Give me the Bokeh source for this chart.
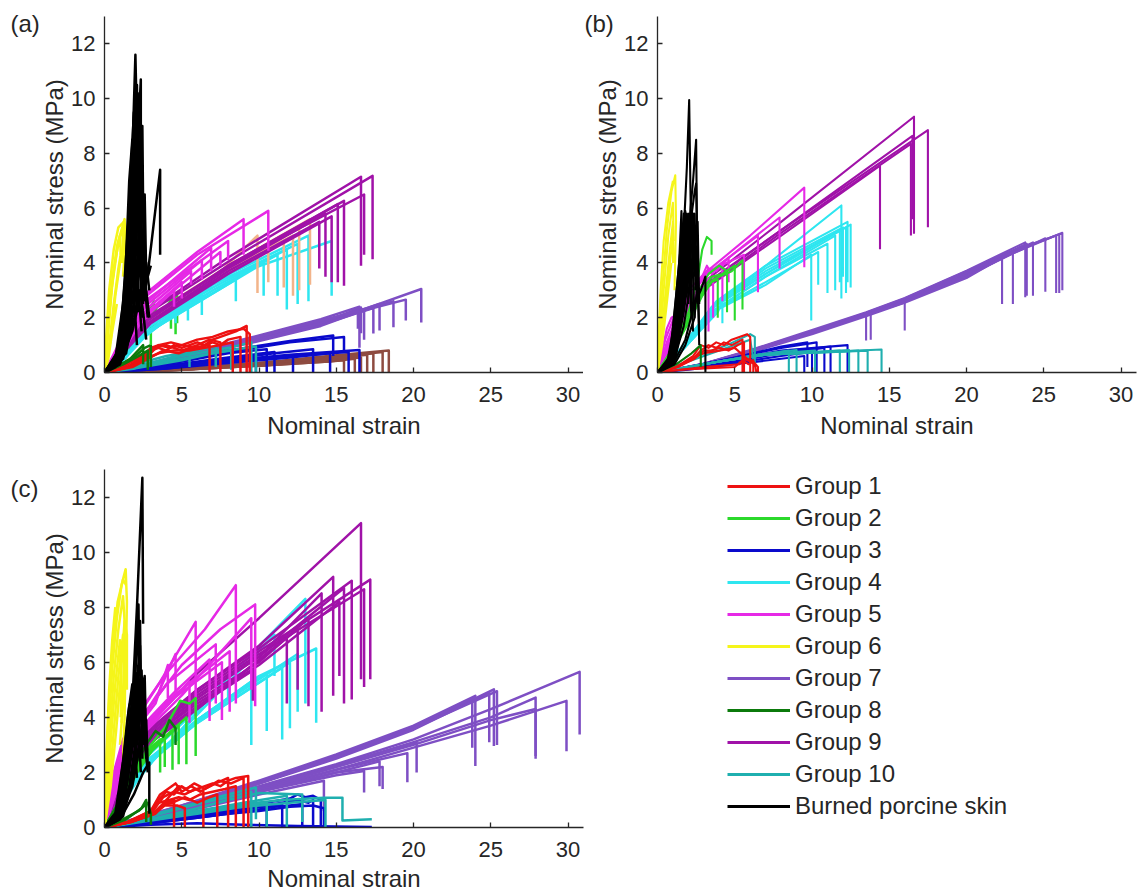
from bokeh.plotting import figure
from bokeh.models import Range1d, Legend, LegendItem, FixedTicker
from bokeh.layouts import column, row
from bokeh.embed import file_html
from bokeh.resources import INLINE

FONT = "Liberation Sans"
GROUP_LABELS = ["Group 1", "Group 2", "Group 3", "Group 4", "Group 5", "Group 6",
                "Group 7", "Group 8", "Group 9", "Group 10", "Burned porcine skin"]
GROUP_COLORS = ["#EE1111", "#2BD92B", "#0A0ACC", "#2EE6F0", "#E629E6", "#F5F51A",
                "#7E4FC4", "#0B7A0B", "#A012A8", "#1FAFAF", "#000000"]
PEACH = "#F2B48A"
BROWN = "#8E4B40"
X_TICKS = [0, 5, 10, 15, 20, 25, 30]
Y_TICKS = [0, 2, 4, 6, 8, 10, 12]
PANEL_TAGS = ["(a)", "(b)", "(c)"]

# ---------------- Panel (a) curves: (strain, stress) ----------------
A_BLACK = [
    [(0,0),(0.8,0.4),(1.3,2.0),(1.7,6.0),(2.0,11.6),(2.1,9.0),(2.4,4.0),(2.6,2.6)],
    [(0,0),(0.9,0.4),(1.5,2.5),(2.0,6.5),(2.35,10.7),(2.35,6.3)],
    [(0,0),(0.8,0.5),(1.4,2.8),(1.8,6.5),(2.15,10.2),(2.2,7.5)],
    [(0,0),(0.7,0.5),(1.2,2.5),(1.6,6.0),(1.9,9.5),(2.0,5.0)],
    [(0,0),(1.0,0.5),(1.6,2.2),(2.0,4.5),(2.4,8.5),(2.45,5.5)],
    [(0,0),(0.8,0.3),(1.3,1.5),(1.7,4.0),(1.95,7.0),(2.2,3.0),(2.4,1.5)],
    [(0,0),(1.0,0.4),(1.7,1.8),(2.2,3.5),(2.5,5.2),(2.6,3.2),(2.8,2.0)],
    [(0,0),(1.0,0.3),(1.8,1.5),(2.4,3.0),(2.8,3.6),(3.2,5.5),(3.6,7.4),(3.6,4.3)],
    [(0,0),(0.9,0.3),(1.5,1.6),(2.0,3.5),(2.5,4.0),(2.7,3.0),(2.9,2.0)],
    [(0,0),(0.6,0.3),(1.1,1.5),(1.5,4.0),(1.75,7.5),(1.8,4.5)],
    [(0,0),(0.7,0.2),(1.2,1.0),(1.6,3.0),(2.1,8.8),(2.3,6.0),(2.6,3.8)],
    [(0,0),(0.5,0.2),(1.0,1.0),(1.4,3.0),(1.7,5.5),(1.9,3.0),(2.1,1.0)],
    [(0,0),(1.1,0.5),(1.9,2.5),(2.3,4.2),(2.6,3.0),(2.8,3.5),(3.0,3.9)],
    [(0,0),(0.9,0.5),(1.4,2.0),(1.8,5.0),(2.05,8.0),(2.2,5.0),(2.45,2.0)],
    [(0,0),(0.8,0.4),(1.3,2.2),(1.7,5.2),(1.95,10.0),(2.0,7.0)],
    [(0,0),(1.0,0.4),(1.6,2.5),(1.95,5.5),(2.3,7.5),(2.4,4.5),(2.5,2.5)],
    [(0,0),(0.7,0.4),(1.2,2.0),(1.5,4.5),(1.8,6.8),(2.0,4.0),(2.2,2.2)],
    [(0,0),(1.1,0.6),(1.7,3.0),(2.1,6.0),(2.5,6.0),(2.6,4.0)],
    [(0,0),(0.9,0.6),(1.5,3.2),(1.85,8.5),(2.1,10.5),(2.15,8.0)],
    [(0,0),(1.2,0.5),(1.9,2.0),(2.3,3.0),(2.5,2.2),(2.7,1.2)],
    [(0,0),(1.0,0.8),(1.5,3.0),(1.8,6.0),(2.0,9.0),(2.1,6.5),(2.3,3.5)],
    [(0,0),(1.1,0.7),(1.6,3.5),(2.0,7.0),(2.2,9.5),(2.25,6.0)],
    [(0,0),(0.9,0.7),(1.35,3.5),(1.6,7.0),(1.8,8.5),(1.9,5.5)],
    [(0,0),(1.2,0.8),(1.8,3.5),(2.2,6.5),(2.45,9.0),(2.5,6.0),(2.6,4.0)],
    [(0,0),(1.3,0.9),(1.9,3.0),(2.3,5.0),(2.6,6.5),(2.7,3.5)],
    [(0,0),(1.0,0.9),(1.5,3.8),(1.75,6.2),(1.9,4.0),(2.1,2.5)],
    [(0,0),(1.2,1.0),(1.7,4.0),(2.0,6.5),(2.3,5.5),(2.5,3.0)],
    [(0,0),(1.4,0.7),(2.0,2.8),(2.4,4.5),(2.7,4.0),(2.9,3.0)],
]
A_YELLOW = [
    [(0,0),(0.15,1.0),(0.4,2.8),(0.8,4.6),(1.3,5.6),(1.35,4.8),(1.2,3.5)],
    [(0,0),(0.2,1.2),(0.5,3.2),(0.9,4.8),(1.2,5.3),(1.15,4.0)],
    [(0,0),(0.1,0.8),(0.3,2.2),(0.6,3.8),(1.0,5.0),(1.05,4.3)],
    [(0,0),(0.3,1.0),(0.6,2.5),(0.9,3.8),(1.1,4.5)],
    [(0,0),(0.25,0.5),(0.5,1.5),(0.8,2.5)],
    [(0,0),(0.1,1.2),(0.3,3.0),(0.6,4.5),(0.9,5.3),(1.25,5.5)],
    [(0,0),(0.4,1.2),(0.7,2.8),(1.0,4.0),(1.25,4.8),(1.3,3.5)],
]
A_MAGENTA = [
    [(0,0),(0.8,0.8),(1.6,1.8),(2.5,2.7),(6,4.3),(10.6,5.9),(10.6,4.45)],
    [(0,0),(0.8,0.9),(1.6,1.9),(2.5,2.8),(6,4.4),(9.0,5.6),(9.0,4.3)],
    [(0,0),(0.9,0.8),(1.8,1.8),(2.6,2.6),(8.0,4.8),(8.0,4.1)],
    [(0,0),(1.0,0.9),(2.0,2.0),(2.8,2.6),(6.9,4.55),(6.9,3.7)],
    [(0,0),(1.0,0.8),(2.0,1.9),(2.8,2.5),(6.3,4.1),(6.3,3.4)],
    [(0,0),(1.0,0.8),(2.0,1.8),(2.9,2.4),(5.6,3.7),(5.6,3.2)],
    [(0,0),(1.1,0.8),(2.1,1.7),(3.0,2.3),(5.0,3.3),(5.0,2.7)],
    [(0,0),(1.1,0.7),(2.2,1.7),(3.0,2.2),(4.5,3.0),(4.5,2.4)],
    [(0,0),(1.2,0.8),(2.2,1.8),(3.0,2.3),(7.5,4.4),(7.5,3.9)],
]
A_DMAG = [
    [(0,0),(1.2,1.0),(2.5,2.1),(8,4.2),(16.6,7.15),(16.6,3.9)],
    [(0,0),(1.2,1.0),(2.6,2.1),(9,4.4),(17.35,7.18),(17.35,4.14)],
    [(0,0),(1.3,1.0),(2.7,2.0),(9,4.2),(16.8,6.5),(16.8,4.3)],
    [(0,0),(1.3,0.9),(2.7,1.9),(8,3.9),(15.5,6.27),(15.5,3.17)],
    [(0,0),(1.4,0.9),(2.8,1.9),(8,3.9),(15.1,6.15),(15.1,3.3)],
    [(0,0),(1.4,0.9),(2.8,1.8),(8,3.8),(14.3,5.8),(14.3,3.5)],
    [(0,0),(1.5,0.9),(2.9,1.8),(8,3.7),(13.9,5.5),(13.9,3.8)],
    [(0,0),(1.5,0.9),(3.0,1.8),(8,3.6),(14.7,5.7),(14.7,3.3)],
]
A_PEACH = [
    [(0,0),(1.2,0.9),(2.5,1.9),(8,3.9),(13.3,5.6),(13.3,3.2)],
    [(0,0),(1.2,0.8),(2.5,1.8),(8,3.7),(12.6,5.3),(12.6,3.0)],
    [(0,0),(1.3,0.8),(2.6,1.7),(7,3.3),(10.6,4.7),(10.6,3.3)],
    [(0,0),(1.3,0.8),(2.6,1.7),(7,3.3),(11.6,4.8),(11.6,3.1)],
    [(0,0),(1.3,0.8),(2.6,1.8),(7,3.5),(12.2,5.0),(12.2,2.8)],
    [(0,0),(1.3,0.8),(2.6,1.7),(7,3.4),(9.9,5.0),(9.9,2.9)],
]
A_CYAN = [
    [(0,0),(1.0,0.6),(2.3,1.5),(7,3.3),(14.7,4.8),(14.7,2.8)],
    [(0,0),(1.0,0.6),(2.3,1.5),(7,3.3),(13.2,5.0),(13.2,2.6)],
    [(0,0),(1.1,0.6),(2.4,1.5),(7,3.2),(12.5,4.7),(12.5,2.5)],
    [(0,0),(1.1,0.6),(2.4,1.5),(7,3.1),(11.8,4.5),(11.8,2.3)],
    [(0,0),(1.2,0.5),(2.5,1.4),(7,3.0),(11.2,4.3),(11.2,2.8)],
    [(0,0),(1.2,0.5),(2.5,1.4),(5.4,2.5),(5.4,1.9)],
    [(0,0),(1.2,0.5),(2.5,1.3),(6.3,2.8),(6.3,2.1)],
    [(0,0),(1.3,0.5),(2.6,1.3),(4.6,2.2),(4.6,1.8)],
    [(0,0),(1.3,0.5),(2.6,1.4),(8.5,3.4),(8.5,2.6)],
    [(0,0),(1.3,0.5),(2.6,1.4),(10.3,4.0),(10.3,2.8)],
]
A_GREEN = [
    [(0,0),(1.0,0.6),(2.0,1.3),(2.8,1.9),(3.2,2.3),(3.4,2.0),(4.4,2.7),(4.6,2.9),(4.6,1.4)],
    [(0,0),(1.0,0.5),(2.0,1.2),(2.7,1.6),(3.0,1.9),(3.0,1.0)],
    [(0,0),(1.1,0.5),(2.1,1.1),(2.8,1.5),(4.3,2.4),(4.3,1.6)],
    [(0,0),(1.2,0.5),(2.2,1.2),(3.5,2.5),(4.7,2.8),(4.7,1.8)],
    [(0,0),(1.0,0.6),(2.2,1.5),(3.2,2.6),(3.2,1.7)],
]
A_RED = [
    [(0,0),(1.5,0.2),(2.5,0.5),(3.0,0.8),(3.5,0.9),(4.0,0.8),(4.5,1.0),(5.0,0.9),(5.5,1.0),(6.0,1.1),(6.5,1.0),(7.0,1.2),(7.5,1.3),(8.0,1.4),(8.5,1.5),(9.2,1.7),(9.2,0.0)],
    [(0,0),(1.5,0.2),(2.5,0.6),(3.0,0.9),(3.5,1.0),(4.2,0.9),(5.0,1.0),(6.0,0.9),(7.0,1.1),(7.5,1.0),(8.0,1.2),(8.8,1.3),(8.8,0.0)],
    [(0,0),(1.5,0.3),(2.6,0.7),(3.2,0.9),(4.0,1.0),(5.0,0.8),(6.0,1.0),(6.8,1.2),(7.5,1.1),(7.5,0.0)],
    [(0,0),(1.6,0.2),(2.6,0.5),(3.5,0.7),(4.5,0.8),(5.5,0.8),(6.5,0.9),(7.5,1.0),(8.3,1.1),(8.3,0.0)],
    [(0,0),(1.6,0.2),(2.8,0.6),(3.5,1.0),(4.3,1.1),(5.0,1.0),(6.0,1.2),(7.0,1.3),(8.0,1.5),(9.0,1.6),(9.4,1.4),(9.4,0.0)],
    [(0,0),(1.8,0.2),(2.8,0.5),(3.8,0.8),(4.8,0.7),(5.8,0.9),(6.8,1.0),(6.8,0.0)],
]
A_DGREEN = [
    [(0,0),(1.0,0.3),(2.0,0.6),(2.6,0.9),(3.0,1.0),(3.0,0.2)],
    [(0,0),(1.2,0.3),(2.2,0.6),(2.8,0.8),(2.8,0.1)],
    [(0,0),(1.5,0.4),(2.5,1.0),(2.5,0.3)],
]
A_TEAL = [
    [(0,0),(2,0.2),(5,0.6),(8,0.9),(9.5,1.1),(9.5,0.0)],
    [(0,0),(2,0.2),(5,0.5),(8,0.8),(9.8,0.95),(9.8,0.0)],
    [(0,0),(2,0.15),(5,0.45),(7,0.7),(8.2,0.8),(8.2,0.1)],
    [(0,0),(2,0.2),(4,0.5),(6,0.8),(7.2,0.95),(7.2,0.2)],
    [(0,0),(2,0.3),(4,0.6),(5.5,0.75),(5.5,0.2)],
]
A_BLUE = [
    [(0,0),(4,0.2),(8,0.45),(12,0.65),(16.5,0.82),(16.5,0.0)],
    [(0,0),(4,0.2),(8,0.4),(12,0.6),(15.8,0.75),(15.8,0.0)],
    [(0,0),(4,0.25),(8,0.55),(11,0.75),(11,0.0)],
    [(0,0),(4,0.3),(8,0.7),(10.5,0.85),(10.5,0.0)],
    [(0,0),(4,0.15),(8,0.35),(12,0.55),(14.6,0.7),(14.6,0.0)],
    [(0,0),(4,0.35),(8,0.8),(12,1.15),(14.8,1.35),(14.8,0.6)],
    [(0,0),(4,0.3),(8,0.75),(12,1.1),(15.5,1.3),(15.5,0.8)],
    [(0,0),(4,0.2),(8,0.5),(11,0.7),(13.5,0.85),(13.5,0.0)],
    [(0,0),(4,0.2),(7,0.4),(9.8,0.55),(9.8,0.0)],
    [(0,0),(4,0.15),(8,0.4),(12.2,0.6),(12.2,0.0)],
]
A_PURPLE = [
    [(0,0),(3,0.3),(6,0.7),(10,1.25),(14,1.85),(17,2.35),(20.5,3.05),(20.5,1.83)],
    [(0,0),(3,0.3),(6,0.7),(10,1.2),(14,1.8),(17,2.3),(19.5,2.66),(19.5,1.9)],
    [(0,0),(3,0.3),(6,0.7),(10,1.2),(14,1.8),(18.7,2.6),(18.7,1.65)],
    [(0,0),(3,0.3),(6,0.7),(10,1.2),(14,1.8),(17.8,2.5),(17.8,1.53)],
    [(0,0),(3,0.3),(6,0.7),(10,1.2),(14,1.75),(17.4,2.35),(17.4,1.42)],
    [(0,0),(3,0.3),(6,0.7),(10,1.2),(14,1.8),(16.6,2.37),(16.6,1.43)],
    [(0,0),(3,0.3),(6,0.65),(10,1.15),(14,1.7),(16.4,2.2),(16.4,1.6)],
    [(0,0),(3,0.35),(6,0.8),(10,1.35),(14,1.95),(16.5,2.4),(16.5,0.9)],
    [(0,0),(3,0.33),(6,0.75),(10,1.3),(14,1.9),(16.8,2.3),(16.8,1.2)],
]
A_BROWN = [
    [(0,0),(5,0.15),(10,0.35),(14.5,0.6),(18.4,0.8),(18.4,0.0)],
    [(0,0),(5,0.15),(10,0.35),(14.5,0.55),(18.0,0.75),(18.0,0.0)],
    [(0,0),(5,0.1),(10,0.3),(14.5,0.5),(17.4,0.7),(17.4,0.0)],
    [(0,0),(5,0.1),(10,0.3),(14.5,0.5),(17.0,0.65),(17.0,0.0)],
    [(0,0),(5,0.1),(10,0.25),(14.5,0.45),(16.6,0.55),(16.6,0.0)],
    [(0,0),(5,0.1),(10,0.25),(14.5,0.4),(16.2,0.5),(16.2,0.0)],
    [(0,0),(5,0.1),(10,0.25),(14.5,0.4),(15.5,0.45),(15.5,0.0)],
]

# ---------------- Panel (b) ----------------
B_BLACK = [
    [(0,0),(0.7,0.3),(1.2,1.5),(1.6,4.0),(1.9,7.5),(2.05,9.95),(2.15,6.0),(2.4,3.5)],
    [(0,0),(0.8,0.4),(1.4,2.0),(1.9,4.5),(2.3,7.0),(2.5,8.5),(2.55,5.5)],
    [(0,0),(0.8,0.3),(1.3,1.5),(1.8,4.0),(2.4,6.6),(2.5,6.9),(2.6,3.5),(2.7,1.0)],
    [(0,0),(0.7,0.3),(1.1,1.5),(1.4,3.5),(1.7,5.8),(1.75,4.0)],
    [(0,0),(0.8,0.3),(1.3,1.8),(1.6,4.0),(2.0,5.8),(2.1,3.5)],
    [(0,0),(0.9,0.3),(1.5,1.7),(2.0,4.0),(2.3,5.8),(2.35,3.8)],
    [(0,0),(0.6,0.3),(1.0,1.5),(1.4,4.0),(1.55,5.9),(1.6,3.0)],
    [(0,0),(1.0,0.3),(1.7,1.7),(2.2,3.5),(2.6,5.5),(2.7,2.5)],
    [(0,0),(1.0,0.3),(1.8,1.2),(2.4,2.5),(2.8,3.0),(3.1,3.5),(3.1,0.0)],
    [(0,0),(0.9,0.4),(1.5,2.0),(1.9,4.0),(2.2,5.9),(2.3,5.0)],
    [(0,0),(1.1,0.3),(1.8,1.0),(2.4,2.0),(2.6,3.5),(2.7,1.5)],
    [(0,0),(0.7,0.4),(1.2,2.0),(1.5,4.2),(1.8,5.9),(1.9,4.5),(2.0,2.5)],
    [(0,0),(0.9,0.5),(1.4,2.4),(1.8,4.6),(2.1,5.6),(2.2,3.0),(2.3,1.5)],
    [(0,0),(1.0,0.5),(1.6,2.3),(2.0,4.4),(2.4,5.8),(2.5,4.0)],
    [(0,0),(0.8,0.5),(1.3,2.5),(1.6,5.0),(1.9,5.7),(2.0,4.0),(2.2,2.0)],
    [(0,0),(1.1,0.5),(1.7,2.2),(2.1,3.8),(2.5,4.6),(2.6,2.5)],
    [(0,0),(0.9,0.6),(1.3,2.5),(1.6,4.5),(1.9,5.8),(2.0,3.5)],
    [(0,0),(1.0,0.6),(1.5,2.8),(1.8,4.8),(2.1,5.5),(2.2,3.0)],
    [(0,0),(1.2,0.6),(1.7,2.5),(2.1,4.2),(2.4,5.2),(2.45,3.0)],
    [(0,0),(0.8,0.6),(1.2,2.8),(1.5,4.6),(1.7,5.4),(1.8,3.2)],
    [(0,0),(1.1,0.7),(1.6,3.0),(1.9,5.0),(2.2,5.9),(2.3,3.5),(2.4,2.0)],
]
B_YELLOW = [
    [(0,0),(0.1,1.0),(0.3,3.0),(0.6,5.2),(0.9,6.6),(1.15,7.2),(1.2,5.5),(1.1,3.0)],
    [(0,0),(0.15,1.0),(0.4,3.0),(0.7,5.0),(1.0,6.2),(1.05,4.8)],
    [(0,0),(0.2,1.0),(0.5,2.8),(0.8,4.5),(1.0,5.5),(1.0,4.0)],
    [(0,0),(0.3,1.0),(0.6,2.5),(0.9,4.0)],
    [(0,0),(0.05,1.0),(0.2,3.0),(0.4,4.8),(0.7,6.2),(1.0,7.0)],
    [(0,0),(0.35,1.5),(0.7,3.5),(1.0,5.0),(1.1,4.0)],
]
B_MAGENTA = [
    [(0,0),(0.5,1.2),(1.2,2.2),(2.0,3.0),(3.0,3.6),(6.0,5.0),(9.5,6.75),(9.5,3.84)],
    [(0,0),(0.6,1.1),(1.3,2.1),(2.1,2.9),(3.1,3.5),(5.5,4.6),(7.9,5.66),(7.9,3.8)],
    [(0,0),(0.6,1.0),(1.4,2.0),(2.2,2.9),(3.2,3.6),(6.5,5.0),(6.5,2.93)],
    [(0,0),(0.7,1.0),(1.5,2.0),(2.3,2.9),(3.3,3.7),(5.6,4.3),(5.6,3.0)],
    [(0,0),(0.7,1.0),(1.5,2.0),(2.4,3.0),(3.3,3.8),(3.8,3.7),(4.6,4.2),(4.6,3.3)],
    [(0,0),(0.8,1.0),(1.6,2.0),(2.5,3.0),(3.2,3.9),(3.5,3.6),(4.2,4.0),(4.2,2.6)],
    [(0,0),(0.8,1.0),(1.6,1.9),(2.5,2.8),(3.0,3.3),(3.3,3.2),(3.3,1.5)],
    [(0,0),(0.9,1.0),(1.7,1.9),(2.6,2.9),(3.2,3.4),(3.6,3.5),(3.6,2.0)],
    [(0,0),(0.3,0.8),(0.6,1.6),(0.9,2.0),(1.2,2.1)],
]
B_DMAG = [
    [(0,0),(1.0,1.2),(2.0,2.3),(3.0,3.3),(8.0,5.5),(16.6,9.34),(16.6,5.07)],
    [(0,0),(1.0,1.1),(2.0,2.2),(3.0,3.2),(8.0,5.2),(17.5,8.85),(17.5,5.3)],
    [(0,0),(1.0,1.1),(2.0,2.2),(3.1,3.2),(8.0,5.2),(16.5,8.64),(16.5,5.6)],
    [(0,0),(1.0,1.1),(2.0,2.2),(3.1,3.1),(8.0,5.1),(16.4,8.35),(16.4,5.0)],
    [(0,0),(1.1,1.1),(2.1,2.1),(3.2,3.1),(8.0,5.0),(14.4,7.55),(14.4,4.5)],
]
B_CYAN = [
    [(0,0),(1.0,0.5),(2.2,1.4),(3.5,2.4),(7.0,3.9),(11.9,6.1),(11.9,2.7)],
    [(0,0),(1.0,0.5),(2.2,1.4),(3.6,2.4),(7.0,3.7),(12.5,5.4),(12.5,3.1)],
    [(0,0),(1.0,0.5),(2.2,1.4),(3.6,2.4),(7.0,3.6),(12.2,5.3),(12.2,2.9)],
    [(0,0),(1.0,0.5),(2.3,1.4),(3.7,2.4),(7.0,3.6),(11.8,5.2),(11.8,3.3)],
    [(0,0),(1.0,0.5),(2.3,1.4),(3.7,2.3),(7.0,3.5),(11.5,5.0),(11.5,3.0)],
    [(0,0),(1.1,0.5),(2.3,1.3),(3.8,2.3),(7.0,3.5),(11.0,4.7),(11.0,2.9)],
    [(0,0),(1.1,0.5),(2.4,1.3),(3.8,2.3),(7.0,3.3),(10.4,4.4),(10.4,3.2)],
    [(0,0),(1.1,0.5),(2.4,1.3),(3.9,2.3),(7.0,3.2),(9.95,4.3),(9.95,1.9)],
    [(0,0),(1.1,0.5),(2.4,1.3),(3.9,2.2),(4.2,2.6),(4.2,1.8)],
    [(0,0),(1.0,0.5),(2.3,1.4),(3.8,2.5),(7.0,3.8),(12.0,5.3),(12.0,3.5)],
    [(0,0),(1.0,0.5),(2.3,1.4),(3.8,2.6),(7.0,3.9),(12.3,5.5),(12.3,3.3)],
]
B_GREEN = [
    [(0,0),(1,0.9),(2,2.2),(2.6,3.4),(2.9,4.5),(3.2,4.95),(3.5,4.8),(3.5,4.3)],
    [(0,0),(1,0.9),(2,2.0),(2.7,3.0),(3.3,3.6),(4.0,3.9),(4.5,3.7),(4.5,2.2)],
    [(0,0),(1,0.8),(2,1.9),(2.8,2.9),(3.5,3.5),(4.2,3.6),(5.0,3.9),(5.0,1.9)],
    [(0,0),(1,0.8),(2,1.9),(2.9,2.9),(3.6,3.4),(4.8,3.7),(5.5,4.1),(5.5,2.3)],
    [(0,0),(1,0.8),(2,1.8),(2.9,2.8),(3.5,3.3),(3.9,3.4),(3.9,2.0)],
]
B_RED = [
    [(0,0),(1.2,0.2),(2.3,0.6),(2.8,1.0),(3.3,0.9),(3.8,1.1),(4.3,1.0),(4.8,1.2),(5.3,1.3),(5.8,1.4),(6.0,1.3),(6.0,0.0)],
    [(0,0),(1.2,0.2),(2.3,0.5),(2.8,0.8),(3.3,1.0),(3.8,0.9),(4.3,1.1),(4.8,1.0),(5.5,1.2),(5.5,0.0)],
    [(0,0),(1.3,0.2),(2.4,0.5),(3.0,0.8),(3.5,0.8),(4.0,0.9),(4.6,0.8),(5.2,1.0),(5.6,1.1),(5.6,0.0)],
    [(0,0),(1.3,0.2),(2.5,0.6),(3.0,0.7),(4.0,0.8),(5.0,0.9),(5.8,0.5),(6.2,0.4),(6.5,0.2),(6.5,0.0)],
    [(0,0),(1.5,0.1),(3.0,0.2),(5.3,0.3),(5.6,0.5),(6.0,0.4),(6.3,0.3),(6.4,0.0)],
    [(0,0),(1.5,0.1),(3.0,0.15),(5.0,0.2),(5.5,0.45),(5.9,0.3),(6.2,0.45),(6.2,0.0)],
]
B_DGREEN = [
    [(0,0),(1.2,0.3),(2.2,0.7),(2.8,1.0),(2.8,0.2)],
]
B_TEAL = [
    [(0,0),(1.5,0.3),(3,0.7),(4.5,1.0),(6.0,1.4),(6.3,1.3),(6.3,0.2)],
    [(0,0),(1.5,0.3),(3,0.6),(4.5,0.9),(6.0,1.2),(6.2,0.5)],
    [(0,0),(2,0.2),(4,0.4),(6,0.6),(8.5,0.8),(8.5,0.0)],
    [(0,0),(2,0.2),(4,0.4),(6.5,0.65),(9.0,0.82),(9.0,0.0)],
    [(0,0),(2,0.2),(4,0.4),(6.5,0.65),(10.2,0.8),(10.2,0.0)],
    [(0,0),(2,0.2),(4,0.4),(7,0.65),(11.8,0.8),(11.8,0.0)],
    [(0,0),(2,0.2),(4,0.4),(7,0.65),(12.4,0.82),(12.4,0.0)],
    [(0,0),(2,0.2),(4,0.4),(7,0.65),(13.0,0.8),(13.0,0.0)],
    [(0,0),(2,0.2),(4,0.4),(7,0.65),(14.5,0.84),(14.5,0.0)],
    [(0,0),(2,0.2),(4,0.4),(7,0.65),(13.6,0.8),(13.6,0.0)],
]
B_BLUE = [
    [(0,0),(2,0.2),(5,0.55),(8,0.9),(10.3,1.1),(10.3,0.0)],
    [(0,0),(2,0.2),(5,0.5),(8,0.8),(12.3,1.0),(12.3,0.0)],
    [(0,0),(2,0.15),(5,0.45),(8,0.75),(11.2,0.95),(11.2,0.0)],
    [(0,0),(2,0.15),(5,0.4),(8,0.7),(10.8,0.9),(10.8,0.0)],
    [(0,0),(2,0.15),(5,0.35),(8,0.6),(10.0,0.75),(10.0,0.0)],
    [(0,0),(2,0.1),(5,0.3),(8,0.5),(9.5,0.6),(9.5,0.0)],
    [(0,0),(2,0.2),(5,0.55),(8,0.95),(9.7,1.1),(9.7,0.2)],
]
B_PURPLE = [
    [(0,0),(3,0.3),(6,0.75),(10,1.45),(13.5,2.1),(16,2.6),(20,3.5),(23,4.35),(26.2,5.1),(26.2,3.0)],
    [(0,0),(3,0.3),(6,0.75),(10,1.45),(13.5,2.1),(16,2.6),(20,3.55),(23,4.4),(26.0,5.05),(26.0,2.9)],
    [(0,0),(3,0.32),(6,0.78),(10,1.5),(13.5,2.15),(16,2.65),(20,3.6),(23,4.45),(25.8,5.0),(25.8,2.9)],
    [(0,0),(3,0.3),(6,0.75),(10,1.45),(13.5,2.1),(16,2.6),(20,3.55),(25.1,4.9),(25.1,2.95)],
    [(0,0),(3,0.32),(6,0.8),(10,1.5),(13.5,2.15),(16,2.68),(20,3.65),(24.3,4.75),(24.3,2.8)],
    [(0,0),(3,0.32),(6,0.8),(10,1.52),(13.5,2.18),(16,2.7),(20,3.7),(23.9,4.7),(23.9,2.8)],
    [(0,0),(3,0.33),(6,0.82),(10,1.55),(13.5,2.2),(16,2.72),(20,3.72),(23.8,4.75),(23.8,2.75)],
    [(0,0),(3,0.3),(6,0.75),(10,1.45),(13.5,2.1),(16,2.6),(20,3.5),(23.0,4.4),(23.0,2.5)],
    [(0,0),(3,0.28),(6,0.72),(10,1.4),(13.5,2.05),(16,2.55),(20,3.45),(22.3,4.2),(22.3,2.5)],
    [(0,0),(3,0.3),(6,0.75),(10,1.45),(13.5,2.15),(13.5,1.17)],
    [(0,0),(3,0.3),(6,0.75),(10,1.45),(13.8,2.2),(13.8,1.2)],
    [(0,0),(3,0.3),(6,0.75),(10,1.45),(13.5,2.1),(16.0,2.56),(16.0,1.53)],
]

# ---------------- Panel (c) ----------------
C_BLACK = [
    [(0,0),(0.8,0.4),(1.4,1.8),(1.8,4.5),(2.1,8.0),(2.45,12.7),(2.5,7.4)],
    [(0,0),(0.8,0.4),(1.4,1.8),(1.9,4.5),(2.2,8.1),(2.25,5.5)],
    [(0,0),(0.9,0.4),(1.5,1.8),(2.0,4.0),(2.4,5.7),(2.5,3.5)],
    [(0,0),(0.9,0.3),(1.6,1.5),(2.2,3.8),(2.6,5.5),(2.7,3.0)],
    [(0,0),(0.7,0.3),(1.3,1.6),(1.7,3.6),(2.0,5.3),(2.1,3.5)],
    [(0,0),(1.0,0.3),(1.8,1.5),(2.3,3.0),(2.6,4.5),(2.7,2.5)],
    [(0,0),(1.0,0.3),(1.9,1.2),(2.5,2.0),(2.9,2.36),(2.9,0.5)],
    [(0,0),(0.7,0.3),(1.2,1.2),(1.6,3.0),(1.9,4.8),(2.0,3.0)],
    [(0,0),(0.8,0.3),(1.4,1.4),(1.9,3.2),(2.3,4.2),(2.6,3.2),(2.8,2.0)],
    [(0,0),(1.1,0.4),(1.8,1.8),(2.2,3.5),(2.4,5.0),(2.45,2.5)],
    [(0,0),(0.9,0.5),(1.6,2.3),(2.0,4.7),(2.3,6.6),(2.4,4.0)],
    [(0,0),(0.8,0.5),(1.3,2.2),(1.7,4.2),(2.1,5.6),(2.2,3.8),(2.35,2.0)],
    [(0,0),(1.0,0.5),(1.6,2.5),(2.0,3.8),(2.4,4.8),(2.55,3.0)],
    [(0,0),(0.7,0.5),(1.2,2.4),(1.5,4.0),(1.8,5.2),(1.9,3.6),(2.1,1.8)],
    [(0,0),(1.2,0.4),(1.9,2.0),(2.3,3.2),(2.7,3.9),(2.8,2.2)],
    [(0,0),(0.9,0.6),(1.4,2.6),(1.8,4.5),(2.2,5.6),(2.3,3.0)],
    [(0,0),(1.1,0.6),(1.7,2.8),(2.1,4.6),(2.5,5.4),(2.6,3.0)],
    [(0,0),(0.8,0.6),(1.3,2.8),(1.6,4.4),(1.9,5.0),(2.0,3.0)],
    [(0,0),(1.2,0.7),(1.8,3.0),(2.2,4.3),(2.6,4.2),(2.75,2.8)],
    [(0,0),(1.0,0.7),(1.5,3.0),(1.9,5.2),(2.3,7.5),(2.35,5.0)],
]
C_YELLOW = [
    [(0,0),(0.1,1.5),(0.25,3.5),(0.5,5.8),(0.8,7.6),(1.1,8.8),(1.37,9.38),(1.45,8.2),(1.4,6.5),(1.2,4.5),(1.0,3.0)],
    [(0,0),(0.15,1.5),(0.35,3.5),(0.6,5.5),(0.9,7.2),(1.2,8.4),(1.3,7.5),(1.25,5.5),(1.1,3.8)],
    [(0,0),(0.2,1.5),(0.45,3.5),(0.7,5.2),(1.0,6.8),(1.1,5.5),(1.05,4.0)],
    [(0,0),(0.3,1.5),(0.6,3.5),(0.9,5.5),(1.2,7.0),(1.35,6.0),(1.3,4.0),(1.2,2.5)],
    [(0,0),(0.05,1.2),(0.15,3.0),(0.3,5.0),(0.5,6.8),(0.7,8.0)],
    [(0,0),(0.1,2.0),(0.3,4.5),(0.55,6.5),(0.85,8.2),(1.2,9.0),(1.4,8.8)],
    [(0,0),(0.4,1.5),(0.75,3.5),(1.05,5.5),(1.3,7.5),(1.45,7.0),(1.45,5.0)],
]
C_MAGENTA = [
    [(0,0),(0.5,1.8),(1.2,3.2),(2.0,4.0),(4.0,5.6),(6.5,7.2),(8.5,8.8),(8.5,4.5)],
    [(0,0),(0.5,1.7),(1.2,3.1),(2.0,3.9),(3.5,5.2),(5.9,7.47),(5.9,4.05)],
    [(0,0),(0.6,1.7),(1.3,3.0),(2.1,3.8),(5.0,5.9),(7.5,7.2),(9.75,8.1),(9.75,4.4)],
    [(0,0),(0.6,1.6),(1.3,2.9),(2.1,3.7),(4.0,5.2),(7.2,6.65),(7.2,4.5)],
    [(0,0),(0.6,1.6),(1.4,3.0),(2.2,3.8),(3.5,4.9),(4.6,6.3),(4.6,4.9)],
    [(0,0),(0.7,1.6),(1.4,2.9),(2.2,3.7),(3.3,4.5),(4.1,5.9),(4.1,4.7)],
    [(0,0),(0.7,1.5),(1.5,2.9),(2.3,3.6),(4.5,4.9),(6.8,6.1),(6.8,3.87)],
    [(0,0),(0.7,1.5),(1.5,2.8),(2.3,3.5),(4.5,4.8),(8.1,6.4),(8.1,4.2)],
    [(0,0),(0.8,1.5),(1.6,2.8),(2.4,3.5),(4.5,4.7),(7.6,6.0),(7.6,3.9)],
    [(0,0),(0.8,1.4),(1.6,2.7),(2.4,3.4),(4.0,4.4),(5.5,5.3),(5.5,3.8)],
    [(0,0),(0.8,1.4),(1.6,2.7),(2.5,3.4),(5,4.8),(9.5,7.6),(9.5,5.0)],
]
C_DMAG = [
    [(0,0),(0.8,1.5),(1.8,2.9),(3,3.8),(6,5.6),(10,7.6),(16.6,11.05),(16.6,5.38)],
    [(0,0),(0.9,1.4),(1.9,2.8),(3,3.6),(6,5.0),(10,6.6),(14.8,9.1),(14.8,4.78)],
    [(0,0),(0.9,1.4),(1.9,2.8),(3,3.6),(6,5.0),(10,6.5),(16.0,8.96),(16.0,4.65)],
    [(0,0),(0.9,1.4),(1.9,2.7),(3,3.5),(6,4.9),(10,6.4),(17.2,9.0),(17.2,5.38)],
    [(0,0),(1.0,1.4),(2.0,2.7),(3,3.5),(6,4.8),(10,6.3),(16.8,8.65),(16.8,5.1)],
    [(0,0),(1.0,1.3),(2.0,2.6),(3,3.4),(6,4.7),(10,6.2),(15.5,8.7),(15.5,4.5)],
    [(0,0),(1.0,1.3),(2.0,2.6),(3,3.4),(6,4.7),(10,6.2),(14.05,8.5),(14.05,4.2)],
    [(0,0),(1.0,1.3),(2.0,2.6),(3,3.3),(6,4.6),(10,6.0),(13.2,7.6),(13.2,4.4)],
    [(0,0),(1.1,1.3),(2.1,2.5),(3,3.3),(6,4.5),(10,5.9),(15.2,8.2),(15.2,5.5)],
    [(0,0),(1.1,1.3),(2.1,2.5),(3,3.2),(6,4.4),(9.6,5.7),(9.6,4.6)],
    [(0,0),(1.1,1.2),(2.1,2.4),(3,3.1),(6,4.3),(12.5,7.2),(12.5,5.0)],
    [(0,0),(1.1,1.2),(2.1,2.4),(3,3.1),(6,4.3),(11.8,6.9),(11.8,4.5)],
]
C_CYAN = [
    [(0,0),(0.8,0.9),(1.8,1.9),(2.8,2.6),(6,4.3),(9.5,6.3),(13.0,8.3),(13.0,4.5)],
    [(0,0),(0.9,0.8),(1.9,1.8),(2.9,2.5),(6,3.9),(10,5.5),(13.7,6.5),(13.7,3.8)],
    [(0,0),(0.9,0.8),(1.9,1.8),(2.9,2.5),(6,3.9),(9.5,5.3),(9.5,3.0)],
    [(0,0),(1.0,0.8),(2.0,1.8),(3.0,2.5),(6,3.9),(10.5,5.6),(10.5,3.5)],
    [(0,0),(1.0,0.8),(2.0,1.7),(3.0,2.4),(6,3.8),(11.5,5.8),(11.5,3.2)],
    [(0,0),(1.0,0.8),(2.0,1.7),(3.0,2.4),(6,3.8),(12.0,6.0),(12.0,3.6)],
    [(0,0),(1.0,0.8),(2.0,1.7),(3.0,2.4),(6,3.9),(12.5,6.3),(12.5,4.2)],
    [(0,0),(1.1,0.8),(2.1,1.7),(3.1,2.4),(6,4.1),(11.0,7.0),(11.0,5.5)],
    [(0,0),(1.1,0.8),(2.1,1.7),(3.1,2.4),(6,4.2),(8.0,5.5),(8.0,4.6)],
]
C_GREEN = [
    [(0,0),(1.0,1.0),(2.0,2.2),(3.0,3.0),(4.0,3.7),(4.9,4.6),(5.5,4.5),(5.9,4.7),(5.9,2.6)],
    [(0,0),(1.0,1.0),(2.0,2.1),(3.0,2.9),(3.6,3.2),(3.6,2.0)],
    [(0,0),(1.0,0.9),(2.0,2.0),(3.0,2.8),(3.9,3.3),(3.9,2.2)],
    [(0,0),(1.0,0.9),(2.0,2.0),(3.0,2.8),(4.4,3.5),(4.4,2.1)],
    [(0,0),(1.1,0.9),(2.1,2.0),(3.1,2.8),(4.8,3.7),(4.8,2.3)],
    [(0,0),(1.1,0.9),(2.1,2.0),(3.1,2.9),(5.3,4.0),(5.3,2.3)],
]
C_DGREEN = [
    [(0,0),(1.0,1.0),(2.0,2.3),(2.8,3.1),(3.3,3.5),(3.8,3.3),(4.2,3.9),(4.6,3.6),(4.6,3.0)],
    [(0,0),(1.2,0.3),(2.2,0.6),(2.8,0.9),(3.0,0.5),(3.0,0.1)],
    [(0,0),(1.4,0.3),(2.4,0.7),(2.7,1.0),(2.7,0.2)],
]
C_RED = [
    [(0,0),(1.5,0.2),(3.0,0.6),(3.5,1.0),(4.0,1.3),(4.5,1.2),(5.0,1.5),(5.5,1.3),(6.0,1.4),(6.5,1.5),(7.0,1.6),(7.5,1.5),(8.0,1.7),(8.5,1.8),(9.3,1.87),(9.3,0.0)],
    [(0,0),(1.5,0.2),(3.0,0.6),(3.6,1.2),(4.1,1.4),(4.6,1.6),(5.0,1.3),(5.6,1.5),(6.2,1.3),(6.8,1.5),(7.4,1.7),(8.2,1.6),(9.0,1.8),(9.0,0.0)],
    [(0,0),(1.5,0.2),(3.0,0.5),(3.5,0.9),(4.2,1.0),(4.8,1.1),(5.5,1.0),(6.2,1.2),(7.0,1.3),(7.8,1.4),(8.5,1.5),(8.5,0.0)],
    [(0,0),(1.6,0.2),(3.1,0.5),(3.7,0.8),(4.4,0.9),(5.2,1.1),(6.0,0.9),(6.8,1.1),(7.3,1.2),(7.3,0.0)],
    [(0,0),(1.6,0.2),(3.1,0.6),(3.8,1.1),(4.5,1.3),(5.2,1.2),(5.9,1.4),(6.4,1.3),(6.4,0.0)],
    [(0,0),(1.7,0.2),(3.2,0.5),(3.9,0.8),(4.7,0.8),(5.2,0.7),(5.2,0.0)],
    [(0,0),(1.7,0.2),(3.2,0.5),(4.0,1.0),(4.8,1.5),(5.3,1.4),(5.8,1.6),(6.5,1.4),(7.2,1.6),(8.0,1.8),(8.0,0.0)],
    [(0,0),(1.7,0.2),(3.3,0.5),(4.0,0.9),(4.5,1.0),(4.5,0.0)],
]
C_TEAL = [
    [(0,0),(2,0.3),(4,0.6),(6,0.9),(8,1.2),(9.8,1.45),(9.8,0.3)],
    [(0,0),(2,0.25),(4,0.55),(6,0.85),(8,1.1),(9.5,1.3),(9.5,0.0)],
    [(0,0),(3,0.3),(6,0.6),(9,0.85),(11.5,1.0),(14.2,1.08),(15.4,1.08),(15.4,0.25),(17.3,0.3)],
    [(0,0),(3,0.25),(6,0.5),(9,0.75),(12,0.9),(14.3,1.0),(14.3,0.0)],
    [(0,0),(3,0.3),(6,0.6),(9,0.9),(11.8,1.15),(11.8,0.0)],
    [(0,0),(3,0.3),(6,0.55),(9,0.8),(10.5,0.9),(10.5,0.0)],
    [(0,0),(3,0.3),(6,0.7),(8,1.0),(10,1.25),(12.8,1.2),(12.8,0.2)],
]
C_BLUE = [
    [(0,0),(3,0.2),(6,0.45),(8,0.65),(9,0.75),(10,0.85),(11,0.95),(12,1.05),(12.5,1.2),(13.0,1.1),(13.5,1.15),(14.0,1.0),(14.0,0.0)],
    [(0,0),(3,0.2),(6,0.4),(8,0.6),(9.5,0.7),(10.5,0.8),(11.5,0.9),(12.5,1.0),(13.2,0.9),(13.5,1.0),(13.5,0.0)],
    [(0,0),(3,0.15),(6,0.35),(8,0.5),(10,0.65),(11,0.75),(12,0.8),(12.8,0.85),(12.8,0.0)],
    [(0,0),(3,0.15),(6,0.35),(8,0.5),(10,0.6),(12,0.75),(13.5,0.8),(14.2,0.7),(14.2,0.0)],
    [(0,0),(3,0.2),(6,0.4),(9,0.65),(11.5,0.85),(11.5,0.0)],
    [(0,0),(3,0.25),(6,0.5),(9,0.8),(10.5,0.9),(10.5,0.0)],
    [(0,0),(3,0.1),(6,0.15),(9,0.1),(12.5,0.05),(17.3,0.02)],
]
C_PURPLE = [
    [(0,0),(5,0.7),(10,1.5),(15,2.3),(20,3.2),(25,4.3),(30.75,5.65),(30.75,3.38)],
    [(0,0),(5,0.75),(10,1.6),(15,2.55),(20,3.6),(25.2,5.02),(25.2,2.96)],
    [(0,0),(5,0.75),(10,1.6),(15,2.5),(20,3.55),(24.9,4.9),(24.9,3.1)],
    [(0,0),(5,0.8),(10,1.7),(15,2.65),(20,3.7),(24.0,4.78),(24.0,2.23)],
    [(0,0),(5,0.8),(10,1.65),(15,2.6),(20,3.65),(23.8,4.7),(23.8,2.9)],
    [(0,0),(5,0.7),(10,1.45),(15,2.25),(20,3.1),(25,4.0),(27.9,4.72),(27.9,2.6)],
    [(0,0),(5,0.7),(10,1.4),(15,2.2),(20,3.0),(25,3.9),(27.9,4.3),(27.9,2.5)],
    [(0,0),(5,0.65),(10,1.35),(15,2.1),(20,2.9),(25,3.7),(29.9,4.6),(29.9,2.77)],
    [(0,0),(5,0.65),(10,1.4),(15,2.2),(20.2,3.1),(20.2,2.0)],
    [(0,0),(5,0.65),(10,1.35),(15,2.1),(19.6,2.7),(19.6,1.64)],
    [(0,0),(5,0.6),(10,1.3),(15,2.0),(18.0,2.2),(18.0,1.4)],
    [(0,0),(5,0.6),(10,1.3),(15,1.9),(16.8,2.05),(16.8,1.27)],
    [(0,0),(5,0.55),(10,1.2),(14.2,1.7),(14.2,0.6)],
    [(0,0),(5,0.6),(10,1.3),(15,2.0),(17.8,2.4),(17.8,1.5)],
    [(0,0),(5,0.75),(10,1.6),(15,2.55),(20,3.6),(25.4,4.95),(25.4,3.0)],
]

G = GROUP_COLORS
PANEL_A_LAYERS = [(G[6], A_PURPLE), (BROWN, A_BROWN), (G[2], A_BLUE), (G[9], A_TEAL),
                  (G[0], A_RED), (G[7], A_DGREEN), (G[1], A_GREEN), (G[3], A_CYAN),
                  (PEACH, A_PEACH), (G[8], A_DMAG), (G[4], A_MAGENTA), (G[5], A_YELLOW),
                  (G[10], A_BLACK)]
PANEL_B_LAYERS = [(G[6], B_PURPLE), (G[2], B_BLUE), (G[9], B_TEAL), (G[0], B_RED),
                  (G[7], B_DGREEN), (G[3], B_CYAN), (G[8], B_DMAG), (G[4], B_MAGENTA),
                  (G[1], B_GREEN), (G[5], B_YELLOW), (G[10], B_BLACK)]
PANEL_C_LAYERS = [(G[6], C_PURPLE), (G[2], C_BLUE), (G[9], C_TEAL), (G[0], C_RED),
                  (G[3], C_CYAN), (G[8], C_DMAG), (G[4], C_MAGENTA), (G[1], C_GREEN),
                  (G[7], C_DGREEN), (G[5], C_YELLOW), (G[10], C_BLACK)]
# curves used as the legend's sample renderers (one per legend entry)
LEGEND_SOURCES = [C_RED, C_GREEN, C_BLUE, C_CYAN, C_MAGENTA, C_YELLOW, C_PURPLE,
                  C_DGREEN, C_DMAG, C_TEAL, C_BLACK]

TEXT_COLOR = "#262626"


def xs_ys(curves):
    return [[pt[0] for pt in c] for c in curves], [[pt[1] for pt in c] for c in curves]


def make_panel(width, height, bl, br, bt, bb, layers, tag, tag_offset, tag_standoff,
               lw=2.5, tick_standoff=14, label_standoff=7):
    p = figure(width=width, height=height, x_range=Range1d(0, 31), y_range=Range1d(0, 13),
               output_backend="svg", toolbar_location=None,
               min_border_left=bl, min_border_right=br, min_border_top=bt, min_border_bottom=bb)
    for color, curves in layers:
        xs, ys = xs_ys(curves)
        p.multi_line(xs=xs, ys=ys, line_color=color, line_width=lw, line_join="round")
    p.xgrid.visible = False
    p.ygrid.visible = False
    p.outline_line_color = None
    p.xaxis.ticker = FixedTicker(ticks=X_TICKS)
    p.yaxis.ticker = FixedTicker(ticks=Y_TICKS)
    p.xaxis.axis_label = "Nominal strain"
    p.yaxis.axis_label = "Nominal stress (MPa)"
    for ax in (p.xaxis[0], p.yaxis[0]):
        ax.axis_line_color = TEXT_COLOR
        ax.axis_line_width = 1.3
        ax.major_tick_line_color = TEXT_COLOR
        ax.major_tick_line_width = 1.3
        ax.major_tick_in = 5
        ax.major_tick_out = 0
        ax.minor_tick_line_color = None
        ax.major_label_text_font = FONT
        ax.major_label_text_font_size = "22px"
        ax.major_label_text_color = TEXT_COLOR
        ax.axis_label_text_font = FONT
        ax.axis_label_text_font_size = "24px"
        ax.axis_label_text_font_style = "normal"
        ax.axis_label_text_color = TEXT_COLOR
    p.xaxis.major_label_standoff = tick_standoff
    p.xaxis.axis_label_standoff = label_standoff
    p.yaxis.major_label_standoff = 9
    p.yaxis.axis_label_standoff = 0
    p.title.text = tag
    p.title.align = "left"
    p.title.offset = tag_offset
    p.title.standoff = tag_standoff
    p.title.vertical_align = "bottom"
    p.title.text_font = FONT
    p.title.text_font_size = "24px"
    p.title.text_font_style = "normal"
    p.title.text_color = TEXT_COLOR
    return p


pa = make_panel(583, 446, 104, 0, 16, 74, PANEL_A_LAYERS, PANEL_TAGS[0], -94, -40)
pb = make_panel(559, 446, 74, 6, 16, 74, PANEL_B_LAYERS, PANEL_TAGS[1], -73, -40, lw=2.1)
pc = make_panel(590, 448, 104, 7, 23, 67, PANEL_C_LAYERS, PANEL_TAGS[2], -94, -64,
                tick_standoff=14, label_standoff=5)

# legend panel: its sample renderers hold panel (c) data but sit outside this view
pd = figure(width=552, height=448, x_range=Range1d(100, 101), y_range=Range1d(100, 101),
            output_backend="svg", toolbar_location=None, x_axis_location=None,
            y_axis_location=None, min_border_left=0, min_border_right=0,
            min_border_top=0, min_border_bottom=0)
pd.outline_line_color = None
pd.grid.visible = False
pd.xgrid.visible = False
pd.ygrid.visible = False
items = []
for lab, color, curves in zip(GROUP_LABELS, GROUP_COLORS, LEGEND_SOURCES):
    xs, ys = xs_ys(curves)
    r = pd.multi_line(xs=xs, ys=ys, line_color=color, line_width=3)
    items.append(LegendItem(label=lab, renderers=[r]))
legend = Legend(items=items, location=(137, 5), label_text_font=FONT,
                label_text_font_size="24px", label_text_color=TEXT_COLOR,
                glyph_width=63, glyph_height=32, label_height=32, spacing=0, padding=0,
                margin=0, label_standoff=5, border_line_alpha=0, background_fill_alpha=0)
pd.add_layout(legend)

layout = column(row(pa, pb), row(pc, pd))
open("out.html", "w").write(file_html(layout, INLINE))
